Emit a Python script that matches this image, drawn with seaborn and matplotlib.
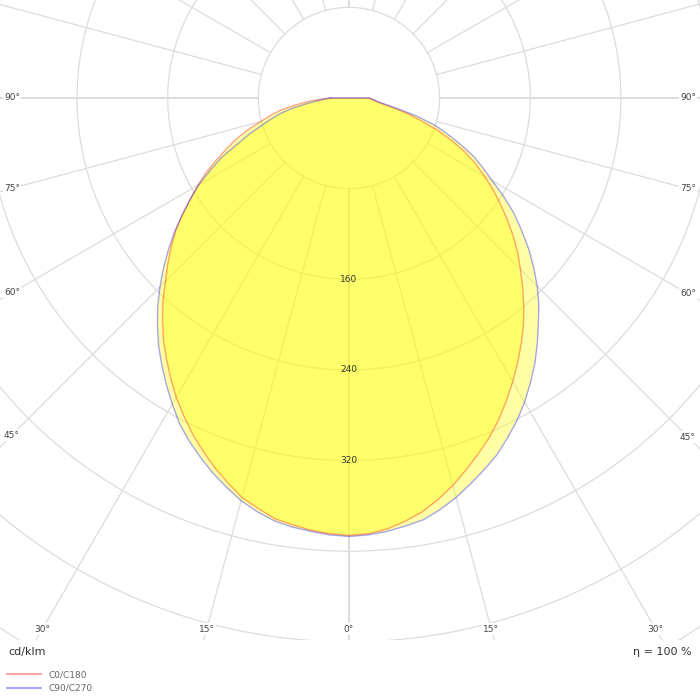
import numpy as np
import pandas as pd
import matplotlib
matplotlib.use("Agg")
import matplotlib.pyplot as plt
import seaborn as sns

# --- data (cd/klm, every 2.5 deg) ---
angles = [0, 2.5, 5, 7.5, 10, 12.5, 15, 17.5, 20, 22.5, 25, 27.5, 30, 32.5, 35, 37.5,
          40, 42.5, 45, 47.5, 50, 52.5, 55, 57.5, 60, 62.5, 65, 67.5, 70, 72.5, 75,
          77.5, 80, 82.5, 85, 87.5, 90]
c0 = [386, 385, 382, 377, 371, 363, 354, 344, 334, 324, 313, 301, 289, 277, 265, 253,
      240, 227, 214, 202, 189, 176, 163, 151, 138, 126, 113, 98, 83, 67, 54,
      40, 30, 25, 22, 20, 18]
c180 = [386, 385, 383, 380, 377, 371, 365, 356, 347, 337, 327, 316, 305, 293, 281, 269,
        256, 243, 229, 217, 205, 193, 179, 166, 154, 142, 129, 117, 106, 94, 81,
        71, 61, 48, 37, 25, 17]
c90 = [387, 386, 384, 381, 378, 372, 365, 357, 349, 341, 331, 321, 310, 298, 286, 273,
       260, 248, 235, 221, 207, 192, 178, 162, 146, 133, 121, 106, 92, 79, 62,
       45, 33, 26, 23, 20, 18]
c270 = [387, 386, 384, 382, 379, 374, 368, 360, 352, 343, 334, 324, 312, 300, 288, 276,
        263, 250, 236, 222, 208, 194, 180, 166, 153, 138, 124, 107, 94, 81, 71,
        61, 50, 37, 28, 21, 16]
rings = [80, 160, 240, 320, 400, 480, 560, 640, 720]
ring_labels = [160, 240, 320]
side_ticks = [45, 60, 75, 90]
bottom_ticks = [0, 15, 30]
eta = "η = 100 %"
unit = "cd/klm"

sns.set_theme(style="white")
plt.rcParams['font.family'] = ['DejaVu Sans']

S = 1.133  # px per cd/klm
W, H = 700, 700
CX, CY = 349, 98     # pole position in px (from top-left)
BOT = 640            # bottom of the diagram area in px


def curve(right, left):
    th = np.radians(angles)
    r_l = np.array(left, float)
    r_r = np.array(right, float)
    xs = np.concatenate([-r_l[::-1] * np.sin(th[::-1]), r_r[1:] * np.sin(th[1:])])
    ys = np.concatenate([-r_l[::-1] * np.cos(th[::-1]), -r_r[1:] * np.cos(th[1:])])
    xs = np.append(xs, xs[0])
    ys = np.append(ys, ys[0])
    return pd.DataFrame({"x": xs, "y": ys})


fig = plt.figure(figsize=(7, 7), dpi=100)
ax = fig.add_axes([0, (H - BOT) / H, 1, BOT / H])
ax.set_xlim(-CX / S, (W - CX) / S)
ax.set_ylim(-(BOT - CY) / S, CY / S)
ax.axis("off")

# grid: rings and rays
grid_col = "#dcdcdc"
t = np.linspace(0, 2 * np.pi, 400)
for r in rings:
    ax.plot(r * np.cos(t), r * np.sin(t), color=grid_col, lw=0.9, zorder=1)
for a in range(0, 360, 15):
    ar = np.radians(a)
    lw = 1.4 if a % 90 == 0 else 0.9
    ax.plot([80 * np.sin(ar), 1200 * np.sin(ar)], [-80 * np.cos(ar), -1200 * np.cos(ar)],
            color=grid_col, lw=lw, zorder=1)

# curves
d1 = curve(c0, c180)
d2 = curve(c90, c270)
ax.fill(d1["x"], d1["y"], color="#ffff00", alpha=0.35, lw=0, zorder=2)
ax.fill(d2["x"], d2["y"], color="#ffff00", alpha=0.35, lw=0, zorder=2)
sns.lineplot(data=d1, x="x", y="y", sort=False, estimator=None, color="#ff0000",
             alpha=0.35, lw=1, ax=ax, label="C0/C180", zorder=3)
sns.lineplot(data=d2, x="x", y="y", sort=False, estimator=None, color="#0000ff",
             alpha=0.35, lw=1, ax=ax, label="C90/C270", zorder=3)
ax.get_legend().remove()
ax.axis("off")

# ring labels
for v in ring_labels:
    ax.text(0, -v, str(v), ha="center", va="center", fontsize=6.5, color="#333333", zorder=4)

# angle labels along the edges
box = dict(boxstyle="square,pad=0.15", fc="white", ec="none")
xl = (12 - CX) / S
xr = (W - 12 - CX) / S
for a in side_ticks:
    y = 0 if a == 90 else -abs(xl) / np.tan(np.radians(a))
    ax.text(xl, y, f"{a}°", ha="center", va="center", fontsize=6.5, color="#444444", bbox=box, zorder=5)
    y = 0 if a == 90 else -abs(xr) / np.tan(np.radians(a))
    ax.text(xr, y, f"{a}°", ha="center", va="center", fontsize=6.5, color="#444444", bbox=box, zorder=5)
yb = -(629 - CY) / S
for a in bottom_ticks:
    for sgn in ([1] if a == 0 else [-1, 1]):
        xb = sgn * abs(yb) * np.tan(np.radians(a))
        ax.text(xb, yb, f"{a}°", ha="center", va="center", fontsize=6.5, color="#444444", bbox=box, zorder=5)

# bottom texts and legend
fig.text(8 / W, 1 - 652 / H, unit, ha="left", va="center", fontsize=8, color="#333333")
fig.text(692 / W, 1 - 652 / H, eta, ha="right", va="center", fontsize=8, color="#333333")
handles, labels = ax.get_legend_handles_labels()
leg = fig.legend(handles, labels, loc="upper left", bbox_to_anchor=(3 / W, 1 - 667 / H),
                 frameon=False, fontsize=6.5, handlelength=3.8, handletextpad=0.8,
                 labelspacing=0.45, borderaxespad=0, borderpad=0.4)
for txt in leg.get_texts():
    txt.set_color("#666666")
for ln in leg.get_lines():
    ln.set_linewidth(1.5)

fig.savefig("out.png", dpi=100, facecolor="white")
